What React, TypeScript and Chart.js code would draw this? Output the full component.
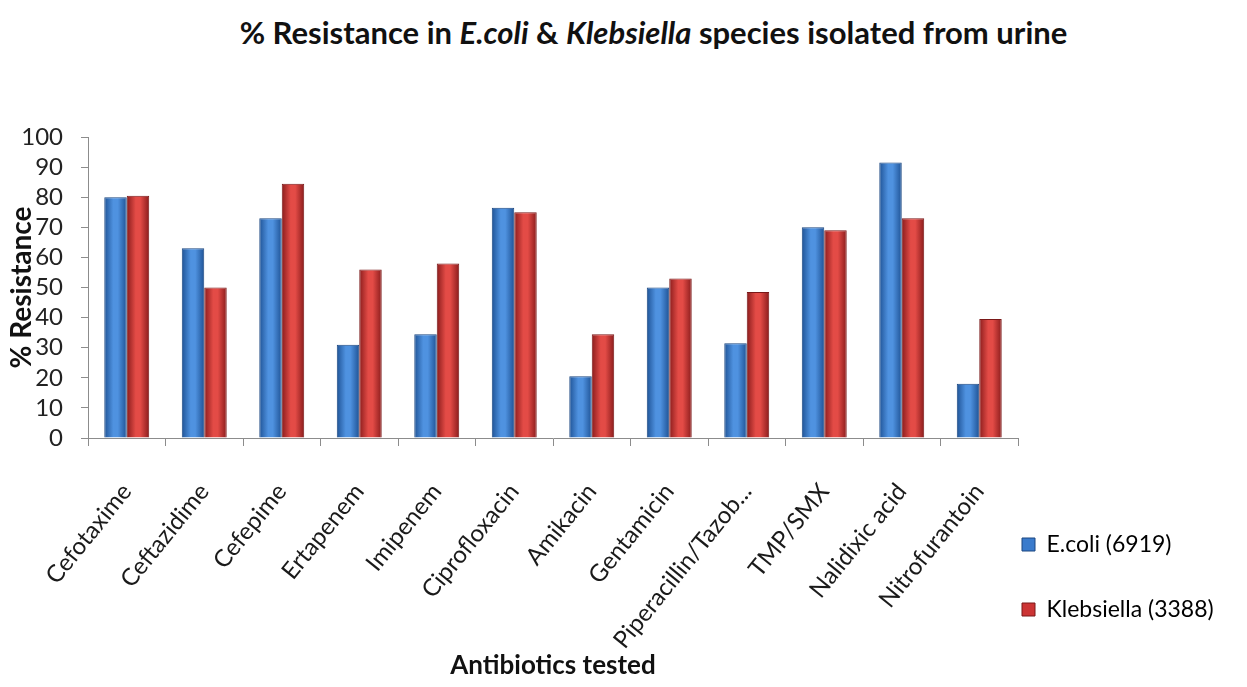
import React, { useEffect, useRef } from "react";
import { Chart, registerables } from "chart.js";

Chart.register(...registerables);

const categories = [
  "Cefotaxime",
  "Ceftazidime",
  "Cefepime",
  "Ertapenem",
  "Imipenem",
  "Ciprofloxacin",
  "Amikacin",
  "Gentamicin",
  "Piperacillin/Tazob...",
  "TMP/SMX",
  "Nalidixic acid",
  "Nitrofurantoin",
];

const ecoliValues = [80, 63, 73, 31, 34.5, 76.5, 20.5, 50, 31.5, 70, 91.5, 18];
const klebsiellaValues = [80.5, 50, 84.5, 56, 58, 75, 34.5, 53, 48.5, 69, 73, 39.5];

const seriesNames = ["E.coli (6919)", "Klebsiella (3388)"];
const yTicks = [0, 10, 20, 30, 40, 50, 60, 70, 80, 90, 100];

const FONT = "Lato, 'Open Sans', 'DejaVu Sans', sans-serif";
const CAT_PCT = 0.58;
const LEGEND_PAD = 42;

const palette = [
  { edge: "#1f5396", mid: "#4f92e0", solid: "#3a7bcc", border: "#1a4680" },
  { edge: "#8a1c1c", mid: "#e34b46", solid: "#cc3434", border: "#7a1818" },
];

function barGradient(dsIndex: number) {
  return (ctx: any) => {
    const chart = ctx.chart;
    const p = palette[dsIndex];
    const xScale = chart.scales && chart.scales.x;
    if (!chart.chartArea || !xScale || ctx.dataIndex === undefined) return p.solid;
    const center = xScale.getPixelForValue(ctx.dataIndex);
    const catW = (chart.chartArea.right - chart.chartArea.left) / categories.length;
    const w = (catW * CAT_PCT) / 2;
    const x0 = dsIndex === 0 ? center - w : center;
    const x1 = x0 + w;
    if (!isFinite(x0) || !isFinite(x1)) return p.solid;
    const g = chart.ctx.createLinearGradient(x0, 0, x1, 0);
    g.addColorStop(0, p.edge);
    g.addColorStop(0.4, p.mid);
    g.addColorStop(0.6, p.mid);
    g.addColorStop(1, p.edge);
    return g;
  };
}

const legendShift = {
  id: "legendShift",
  afterLayout(chart: any) {
    const lg = chart.legend;
    if (!lg) return;
    lg.left -= LEGEND_PAD - 4;
    lg.bottom -= 18;
  },
};

export default function App() {
  const ref = useRef<HTMLCanvasElement | null>(null);

  useEffect(() => {
    if (!ref.current) return;
    const chart = new Chart(ref.current, {
      type: "bar",
      data: {
        labels: categories,
        datasets: [
          {
            label: seriesNames[0],
            data: ecoliValues,
            backgroundColor: barGradient(0),
            borderColor: palette[0].border,
            borderWidth: 1,
            categoryPercentage: CAT_PCT,
            barPercentage: 1,
          },
          {
            label: seriesNames[1],
            data: klebsiellaValues,
            backgroundColor: barGradient(1),
            borderColor: palette[1].border,
            borderWidth: 1,
            categoryPercentage: CAT_PCT,
            barPercentage: 1,
          },
        ],
      },
      options: {
        animation: false,
        responsive: true,
        maintainAspectRatio: false,
        layout: { padding: { top: 137, left: 5, right: 0, bottom: 6 } },
        plugins: {
          title: { display: false },
          tooltip: { enabled: false },
          legend: {
            position: "right",
            align: "end",
            maxWidth: 229,
            labels: {
              boxWidth: 13,
              boxHeight: 13,
              padding: LEGEND_PAD,
              color: "#1a1a1a",
              font: { family: FONT, size: 23 },
              generateLabels: (chart: any) =>
                chart.data.datasets.map((ds: any, i: number) => ({
                  text: ds.label,
                  fillStyle: palette[i].solid,
                  strokeStyle: palette[i].border,
                  lineWidth: 1,
                  datasetIndex: i,
                  hidden: false,
                })),
            },
          },
        },
        scales: {
          x: {
            afterFit: (s: any) => {
              s.height = 243;
            },
            grid: {
              display: true,
              drawOnChartArea: false,
              drawTicks: true,
              tickLength: 8,
              color: "#8c8c8c",
              offset: true,
            },
            border: { display: true, color: "#8c8c8c", width: 1 },
            ticks: {
              autoSkip: false,
              maxRotation: 51,
              minRotation: 51,
              padding: 32,
              color: "#1a1a1a",
              font: { family: FONT, size: 24 },
            },
            title: {
              display: true,
              text: "Antibiotics tested",
              color: "#111",
              font: { family: FONT, size: 26, weight: "bold" },
              padding: { top: 0, bottom: 0 },
            },
          },
          y: {
            min: 0,
            max: 100,
            afterFit: (s: any) => {
              s.width = 83;
            },
            afterBuildTicks: (s: any) => {
              s.ticks = yTicks.map((v) => ({ value: v }));
            },
            grid: {
              display: true,
              drawOnChartArea: false,
              drawTicks: true,
              tickLength: 7,
              color: "#8c8c8c",
            },
            border: { display: true, color: "#8c8c8c", width: 1 },
            ticks: {
              autoSkip: false,
              padding: 18,
              color: "#222",
              font: { family: FONT, size: 24 },
            },
            title: {
              display: true,
              text: "% Resistance",
              color: "#111",
              font: { family: FONT, size: 28, weight: "bold" },
              padding: { top: 0, bottom: 0 },
            },
          },
        },
      },
      plugins: [legendShift],
    });
    return () => chart.destroy();
  }, []);

  return (
    <div style={{ position: "fixed", left: 0, top: 0, width: 1247, height: 687, background: "#fff" }}>
      <div
        style={{
          position: "absolute",
          left: 0,
          top: 13,
          width: 1247,
          boxSizing: "border-box",
          paddingLeft: 60,
          textAlign: "center",
          fontFamily: FONT,
          fontWeight: "bold",
          fontSize: 31,
          lineHeight: "38px",
          color: "#111",
        }}
      >
        % Resistance in <i>E.coli</i> &amp; <i>Klebsiella</i> species isolated from urine
      </div>
      <canvas ref={ref} style={{ position: "absolute", left: 0, top: 0 }} />
    </div>
  );
}
